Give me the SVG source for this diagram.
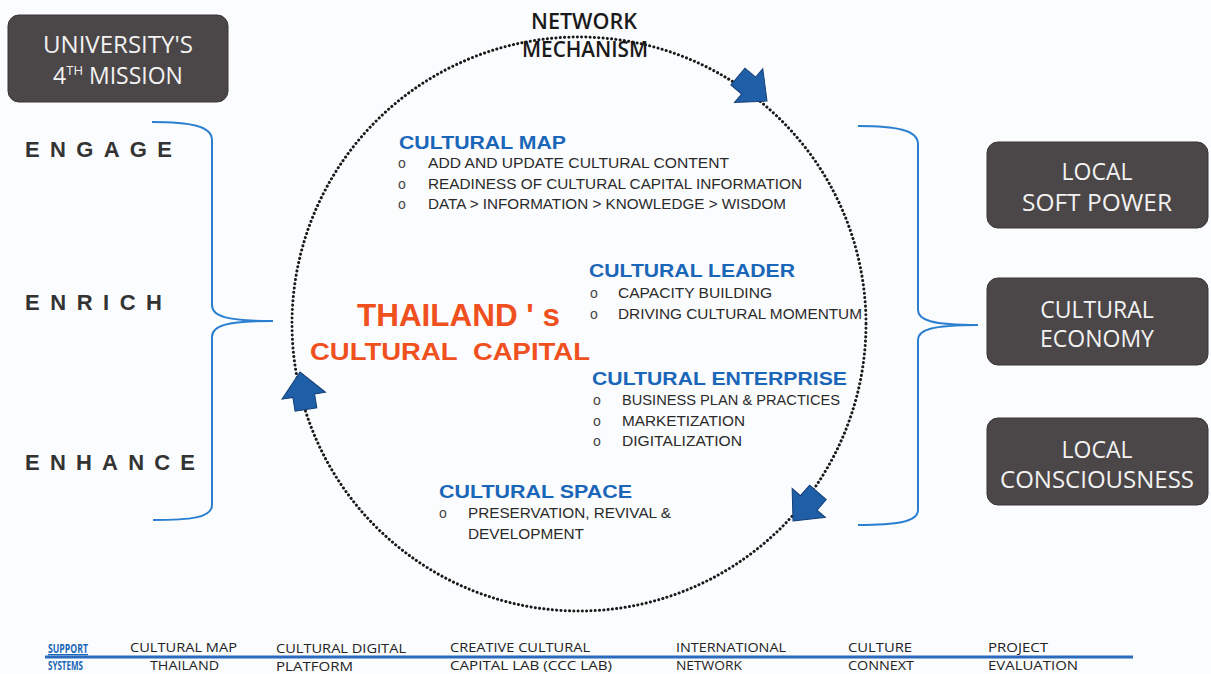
<svg xmlns="http://www.w3.org/2000/svg" width="1211" height="674" viewBox="0 0 1211 674">
<style>
.box{fill:#4b4647;stroke:#3a3536;stroke-width:1}
.bt{font-family:"Open Sans","Liberation Sans",sans-serif;font-size:23px;fill:#f2f2f2;text-anchor:middle}
.e{font-family:"Liberation Sans",Arial,sans-serif;font-size:22px;font-weight:bold;fill:#333}
.brace{fill:none;stroke:#2a7fd0;stroke-width:2}
.ttl{font-family:"Liberation Sans",Arial,sans-serif;font-size:19px;font-weight:bold;fill:#1a66b8}
.it{font-family:"Liberation Sans",Arial,sans-serif;font-size:14px;fill:#2a2a2a}
.bul{font-family:"Liberation Sans",Arial,sans-serif;font-size:14px;fill:#444}
.or{font-family:"Liberation Sans",Arial,sans-serif;font-weight:bold;fill:#f0501e}
.nm{font-family:"Open Sans","Liberation Sans",sans-serif;font-size:21px;fill:#1a1a1a;font-weight:600}
.ss{font-family:"Open Sans","Liberation Sans",sans-serif;font-size:13px;fill:#222}
.sb{font-family:"Open Sans","Liberation Sans",sans-serif;font-size:13px;fill:#1a66b8;font-weight:bold}
.arr{fill:#1f5fa8;stroke:#163f77;stroke-width:1}
</style>
<defs>
<path id="ah" d="M0,0 L-24,-22 L-24,-11 L-38,-11 L-38,11 L-24,11 L-24,22 Z"/>
</defs>
<rect width="1211" height="674" fill="#fbfcfd"/>

<g id="connectors">
<circle cx="579" cy="324" r="287" fill="none" stroke="#1a1a1a" stroke-width="3" stroke-dasharray="0.1 4.2" stroke-linecap="round"/>
<use href="#ah" class="arr" transform="translate(767,101) rotate(40)"/>
<use href="#ah" class="arr" transform="translate(793,521) rotate(131)"/>
<use href="#ah" class="arr" transform="translate(300,372) rotate(-99)"/>
<path class="brace" d="M152,122 C190,122 212,126 212,140 L212,305 C212,316 225,321 273,321 C225,321 212,326 212,337 L212,505 C212,518 190,520 153,520"/>
<path class="brace" d="M858,126 C896,126 918,130 918,144 L918,310 C918,320 931,325 978,325 C931,325 918,330 918,340 L918,510 C918,522 896,525 858,525"/>
<line x1="45" y1="657" x2="1133" y2="657" stroke="#2a6bbf" stroke-width="3"/>
</g>

<g id="mission">
<rect class="box" x="8" y="15" width="220" height="87" rx="11"/>
<text class="bt" x="118" y="53" textLength="150" lengthAdjust="spacingAndGlyphs">UNIVERSITY'S</text>
<text class="bt" x="118" y="84">4<tspan font-size="13" dy="-9">TH</tspan><tspan dy="9"> MISSION</tspan></text>
</g>

<g id="e3">
<text class="e" x="25" y="157" textLength="147" lengthAdjust="spacing">ENGAGE</text>
<text class="e" x="25" y="310" textLength="137" lengthAdjust="spacing">ENRICH</text>
<text class="e" x="25" y="470" textLength="170" lengthAdjust="spacing">ENHANCE</text>
</g>

<g id="network">
<text class="nm" x="531" y="29" textLength="106" lengthAdjust="spacingAndGlyphs">NETWORK</text>
<text class="nm" x="522" y="57" textLength="126" lengthAdjust="spacingAndGlyphs">MECHANISM</text>
</g>

<g id="map">
<text class="ttl" x="399" y="149" textLength="167" lengthAdjust="spacingAndGlyphs">CULTURAL MAP</text>
<text class="bul" x="398" y="168">o</text><text class="it" x="428" y="168" textLength="301" lengthAdjust="spacingAndGlyphs">ADD AND UPDATE CULTURAL CONTENT</text>
<text class="bul" x="398" y="189">o</text><text class="it" x="428" y="189" textLength="374" lengthAdjust="spacingAndGlyphs">READINESS OF CULTURAL CAPITAL INFORMATION</text>
<text class="bul" x="398" y="209">o</text><text class="it" x="428" y="209" textLength="358" lengthAdjust="spacingAndGlyphs">DATA &gt; INFORMATION &gt; KNOWLEDGE &gt; WISDOM</text>
</g>

<g id="leader">
<text class="ttl" x="589" y="277" textLength="206" lengthAdjust="spacingAndGlyphs">CULTURAL LEADER</text>
<text class="bul" x="590" y="298">o</text><text class="it" x="618" y="298" textLength="154" lengthAdjust="spacingAndGlyphs">CAPACITY BUILDING</text>
<text class="bul" x="590" y="319">o</text><text class="it" x="618" y="319" textLength="244" lengthAdjust="spacingAndGlyphs">DRIVING CULTURAL MOMENTUM</text>
</g>

<g id="capital">
<text class="or" x="357" y="326" font-size="31" textLength="203" lengthAdjust="spacingAndGlyphs">THAILAND ' s</text>
<text class="or" x="310" y="360" font-size="24" textLength="280" lengthAdjust="spacingAndGlyphs">CULTURAL&#160; CAPITAL</text>
</g>

<g id="enterprise">
<text class="ttl" x="592" y="385" textLength="255" lengthAdjust="spacingAndGlyphs">CULTURAL ENTERPRISE</text>
<text class="bul" x="593" y="405">o</text><text class="it" x="622" y="405" textLength="218" lengthAdjust="spacingAndGlyphs">BUSINESS PLAN &amp; PRACTICES</text>
<text class="bul" x="593" y="426">o</text><text class="it" x="622" y="426" textLength="123" lengthAdjust="spacingAndGlyphs">MARKETIZATION</text>
<text class="bul" x="593" y="446">o</text><text class="it" x="622" y="446" textLength="120" lengthAdjust="spacingAndGlyphs">DIGITALIZATION</text>
</g>

<g id="space">
<text class="ttl" x="439" y="498" textLength="193" lengthAdjust="spacingAndGlyphs">CULTURAL SPACE</text>
<text class="bul" x="439" y="518">o</text><text class="it" x="468" y="518" textLength="203" lengthAdjust="spacingAndGlyphs">PRESERVATION, REVIVAL &amp;</text>
<text class="it" x="468" y="539" textLength="116" lengthAdjust="spacingAndGlyphs">DEVELOPMENT</text>
</g>

<g id="softpower">
<rect class="box" x="987" y="142" width="221" height="86" rx="11"/>
<text class="bt" x="1097" y="180">LOCAL</text>
<text class="bt" x="1097" y="211" textLength="150" lengthAdjust="spacingAndGlyphs">SOFT POWER</text>
</g>
<g id="economy">
<rect class="box" x="987" y="278" width="221" height="87" rx="11"/>
<text class="bt" x="1097" y="318">CULTURAL</text>
<text class="bt" x="1097" y="347">ECONOMY</text>
</g>
<g id="consciousness">
<rect class="box" x="987" y="418" width="221" height="87" rx="11"/>
<text class="bt" x="1097" y="458">LOCAL</text>
<text class="bt" x="1097" y="488" textLength="194" lengthAdjust="spacingAndGlyphs">CONSCIOUSNESS</text>
</g>

<g id="support">
<text class="sb" x="48" y="653" textLength="40" lengthAdjust="spacingAndGlyphs" text-decoration="underline">SUPPORT</text>
<text class="sb" x="48" y="670" textLength="35" lengthAdjust="spacingAndGlyphs">SYSTEMS</text>
<text class="ss" x="130" y="652" textLength="107" lengthAdjust="spacingAndGlyphs">CULTURAL MAP</text>
<text class="ss" x="150" y="670" textLength="69" lengthAdjust="spacingAndGlyphs">THAILAND</text>
<text class="ss" x="276" y="653" textLength="130" lengthAdjust="spacingAndGlyphs">CULTURAL DIGITAL</text>
<text class="ss" x="276" y="671" textLength="77" lengthAdjust="spacingAndGlyphs">PLATFORM</text>
<text class="ss" x="450" y="652" textLength="140" lengthAdjust="spacingAndGlyphs">CREATIVE CULTURAL</text>
<text class="ss" x="450" y="670" textLength="162" lengthAdjust="spacingAndGlyphs">CAPITAL LAB (CCC LAB)</text>
<text class="ss" x="676" y="652" textLength="110" lengthAdjust="spacingAndGlyphs">INTERNATIONAL</text>
<text class="ss" x="676" y="670" textLength="66" lengthAdjust="spacingAndGlyphs">NETWORK</text>
<text class="ss" x="848" y="652" textLength="64" lengthAdjust="spacingAndGlyphs">CULTURE</text>
<text class="ss" x="848" y="670" textLength="66" lengthAdjust="spacingAndGlyphs">CONNEXT</text>
<text class="ss" x="988" y="652" textLength="60" lengthAdjust="spacingAndGlyphs">PROJECT</text>
<text class="ss" x="988" y="670" textLength="90" lengthAdjust="spacingAndGlyphs">EVALUATION</text>
</g>
</svg>
